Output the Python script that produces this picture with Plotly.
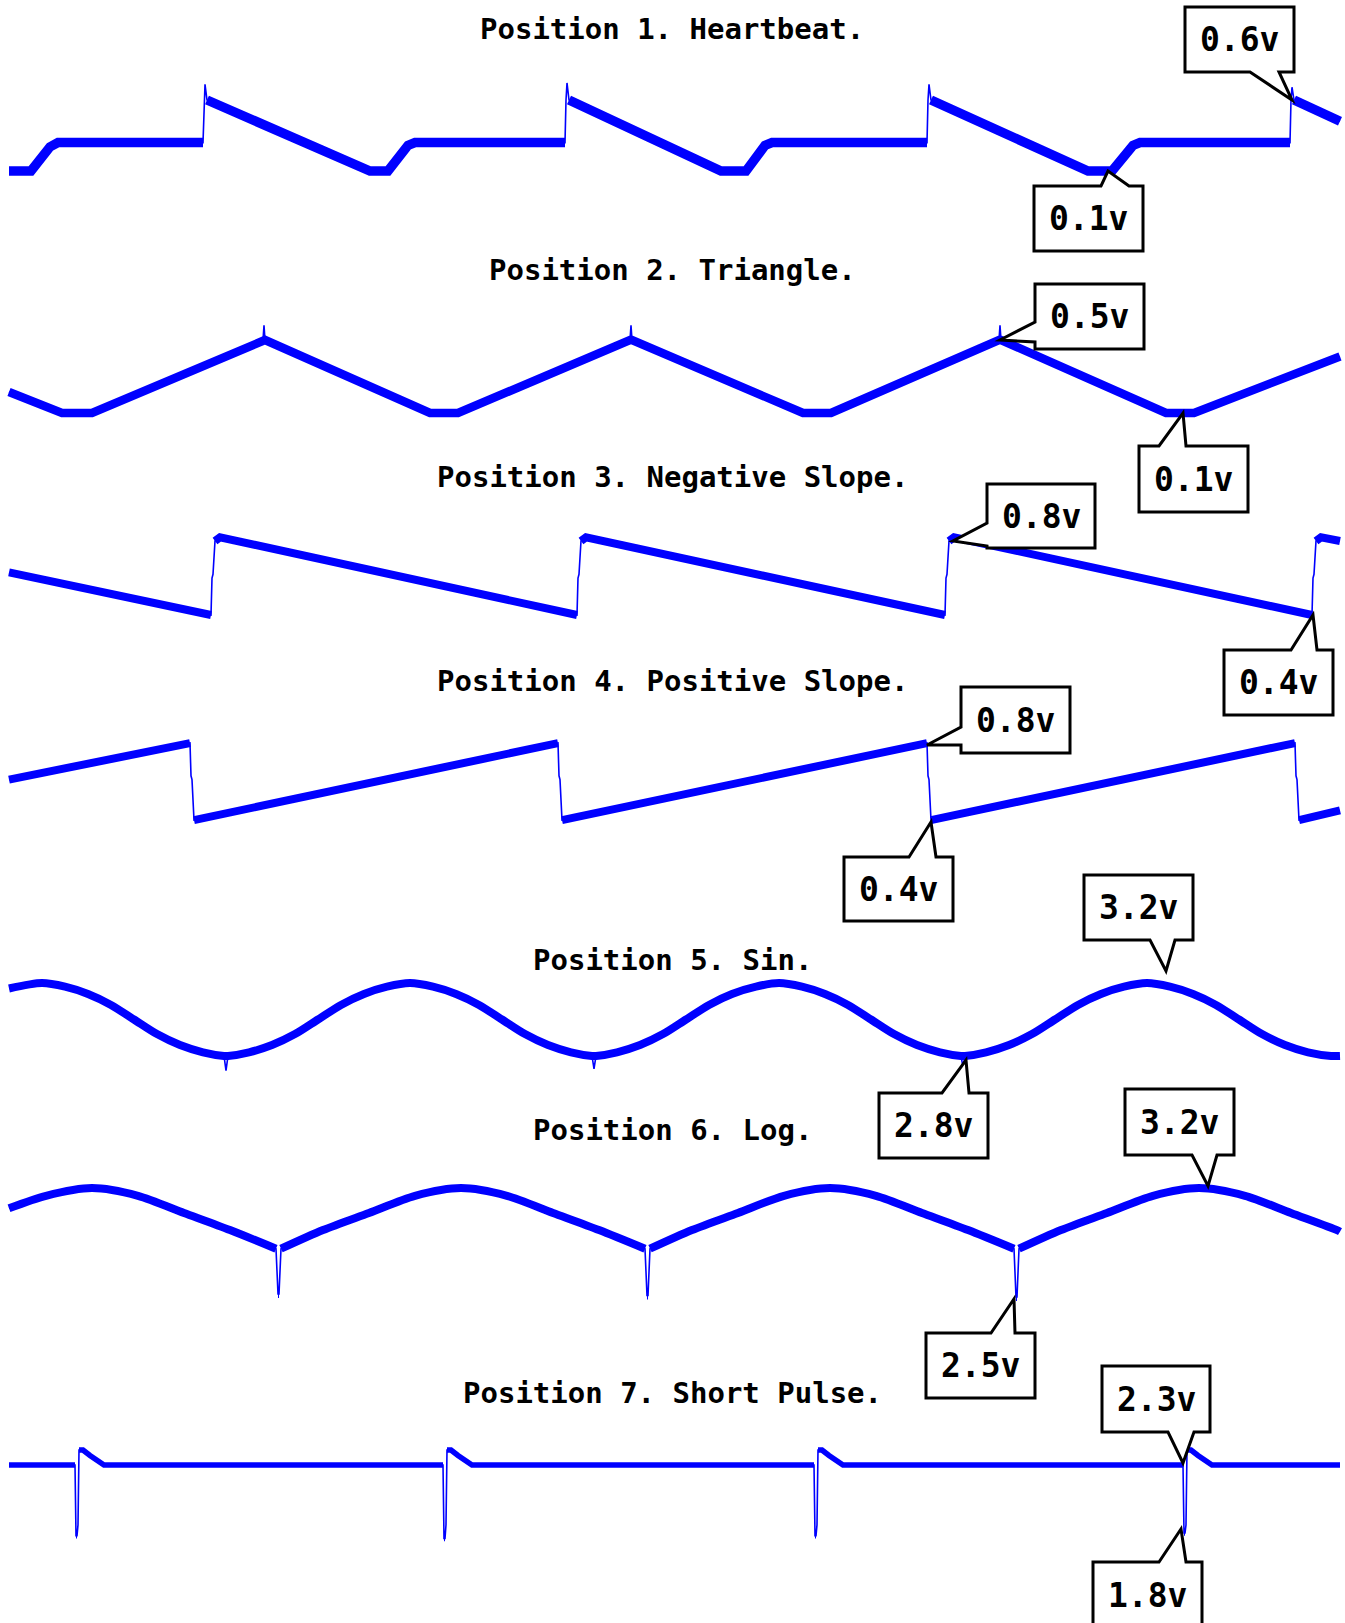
import plotly.graph_objects as go

W, H = 1345, 1623
BLUE = "#0000ff"
MONO = "DejaVu Sans Mono, Liberation Mono, monospace"

# scope captures: sample index and volts

# Position 1. Heartbeat.
heart_t = [0, 22, 41, 49, 194, 195, 196, 198, 361, 379, 399, 406,
           556, 557, 558, 560, 712, 737, 756, 763,
           918, 919, 920, 922, 1079, 1103, 1124, 1131,
           1281, 1282, 1283, 1285, 1331]
heart_v = [0.1, 0.1, 0.27, 0.3, 0.3, 0.6, 0.71, 0.6, 0.1, 0.1, 0.28, 0.3,
           0.3, 0.6, 0.72, 0.6, 0.1, 0.1, 0.28, 0.3,
           0.3, 0.6, 0.71, 0.6, 0.1, 0.1, 0.28, 0.3,
           0.3, 0.6, 0.69, 0.6, 0.45]

# Position 2. Triangle.
tri_t = [0, 53, 83, 254, 255, 256, 421, 449, 621, 622, 623,
         794, 822, 990, 991, 992, 1157, 1185, 1331]
tri_v = [0.215, 0.1, 0.1, 0.5, 0.58, 0.5, 0.1, 0.1, 0.5, 0.58, 0.5,
         0.1, 0.1, 0.5, 0.58, 0.5, 0.1, 0.1, 0.41]

# Position 3. Negative Slope.
neg_t = [0, 202, 203, 204, 206, 211, 568, 569, 570, 572, 577,
         936, 937, 938, 940, 945, 1303, 1304, 1305, 1307, 1312, 1331]
neg_v = [0.63, 0.4, 0.6, 0.62, 0.8, 0.82, 0.4, 0.6, 0.62, 0.8, 0.82,
         0.4, 0.6, 0.62, 0.8, 0.82, 0.4, 0.6, 0.62, 0.8, 0.82, 0.8]

# Position 4. Positive Slope.
pos_t = [0, 181, 182, 183, 185, 549, 550, 551, 553,
         918, 919, 920, 922, 1286, 1287, 1288, 1290, 1331]
pos_v = [0.62, 0.81, 0.64, 0.62, 0.41, 0.81, 0.64, 0.62, 0.41,
         0.81, 0.64, 0.62, 0.41, 0.81, 0.64, 0.62, 0.41, 0.46]

# Position 5. Sin.
sin_t = [0, 33, 56, 79, 102, 125, 148, 171, 194, 215, 217, 219,
         240, 263, 286, 309, 332, 355, 378, 401, 424, 447, 470, 493,
         516, 539, 562, 583, 585, 587, 608, 631, 654, 677, 700, 723,
         747, 770, 793, 816, 839, 862, 885, 908, 931, 952, 954, 956,
         977, 1000, 1023, 1046, 1069, 1092, 1115, 1138, 1161, 1184,
         1207, 1230, 1253, 1276, 1299, 1322, 1331]
sin_v = [3.17, 3.20, 3.18, 3.14, 3.08, 3.00, 2.92, 2.86, 2.82, 2.80, 2.72, 2.80,
         2.82, 2.86, 2.92, 3.00, 3.08, 3.14, 3.18, 3.20, 3.18, 3.14, 3.08, 3.00,
         2.92, 2.86, 2.82, 2.80, 2.73, 2.80, 2.82, 2.86, 2.92, 3.00, 3.08, 3.14,
         3.18, 3.20, 3.18, 3.14, 3.08, 3.00, 2.92, 2.86, 2.82, 2.80, 2.74, 2.80,
         2.82, 2.86, 2.92, 3.00, 3.08, 3.14, 3.18, 3.20,
         3.18, 3.14, 3.08, 3.00, 2.92, 2.86, 2.82, 2.80, 2.80]

# Position 6. Log.
log_t = [0, 37, 83, 129, 175, 221,
         267, 268, 269, 270, 271, 272,
         314, 360, 406, 452, 498, 544, 590,
         636, 637, 638, 639, 640, 641,
         683, 729, 775, 821, 867, 913, 959,
         1005, 1006, 1007, 1008, 1009, 1010,
         1052, 1098, 1144, 1190, 1236, 1282, 1328, 1331]
log_v = [3.07, 3.15, 3.20, 3.15, 3.04, 2.93,
         2.81, 2.69, 2.52, 2.52, 2.72, 2.81,
         2.93, 3.04, 3.15, 3.20, 3.15, 3.04, 2.93,
         2.81, 2.69, 2.51, 2.51, 2.72, 2.81,
         2.93, 3.04, 3.15, 3.20, 3.15, 3.04, 2.93,
         2.81, 2.69, 2.50, 2.50, 2.72, 2.81,
         2.93, 3.04, 3.15, 3.20, 3.15, 3.04, 2.93, 2.92]

# Position 7. Short Pulse.
pulse_t = [0, 66, 67, 68, 69, 70, 74, 81, 89, 95,
           434, 435, 436, 437, 438, 442, 449, 457, 463,
           805, 806, 807, 808, 809, 813, 820, 828, 834,
           1174, 1175, 1176, 1177, 1178, 1182, 1189, 1197, 1203, 1331]
pulse_v = [2.3, 2.3, 1.78, 1.78, 1.86, 2.41, 2.41, 2.37, 2.33, 2.3,
           2.3, 1.76, 1.76, 1.86, 2.41, 2.41, 2.37, 2.33, 2.3,
           2.3, 1.78, 1.78, 1.86, 2.41, 2.41, 2.37, 2.33, 2.3,
           2.3, 1.8, 1.8, 1.86, 2.41, 2.41, 2.37, 2.33, 2.3, 2.3]

titles = ["Position 1. Heartbeat.", "Position 2. Triangle.",
          "Position 3. Negative Slope.", "Position 4. Positive Slope.",
          "Position 5. Sin.", "Position 6. Log.", "Position 7. Short Pulse."]
series = [(heart_t, heart_v), (tri_t, tri_v), (neg_t, neg_v), (pos_t, pos_v),
          (sin_t, sin_v), (log_t, log_v), (pulse_t, pulse_v)]

# marked readings: label, row, sample, volts
call_labels = ["0.6v", "0.1v", "0.5v", "0.1v", "0.8v", "0.4v", "0.8v",
               "0.4v", "3.2v", "2.8v", "3.2v", "2.5v", "2.3v", "1.8v"]
call_rows = [0, 0, 1, 1, 2, 2, 3, 3, 4, 4, 5, 5, 6, 6]
call_t = [1283, 1099, 991, 1174, 944, 1304, 918, 922, 1157, 957, 1199, 1005, 1174, 1172]
call_v = [0.6, 0.1, 0.5, 0.1, 0.8, 0.4, 0.8, 0.4, 3.2, 2.8, 3.2, 2.5, 2.3, 1.8]

# ---- layout (screen pixels) ----
# per row: (volts low, px low, volts high, px high) for the vertical scale
calib = [(0.1, 171, 0.6, 100), (0.1, 413, 0.5, 340), (0.4, 615, 0.8, 541),
         (0.4, 822, 0.8, 745), (2.8, 1056, 3.2, 983), (2.5, 1297, 3.2, 1188),
         (1.8, 1533, 2.3, 1465)]
title_y = [29, 270, 477, 681, 960, 1130, 1393]
band_w = [9.5, 8.5, 8, 8, 8, 8, 5.5]
smooth = [False, False, False, False, True, True, False]
X0 = 9  # screen column of sample 0

# bubble geometry relative to the point: side, box x0,x1,y0,y1, pointer base b0,b1, tip dy
bubbles = [("bottom", -107, 2, -93, -28, -42, -13, 0),
           ("top", -74, 35, 15, 80, -7, 21, 0),
           ("left", 35, 144, -56, 9, -18, 2, 0),
           ("top", -44, 65, 33, 99, -24, 3, 0),
           ("left", 34, 142, -57, 7, -18, 5, 0),
           ("top", -89, 20, 35, 100, -22, 4, 0),
           ("left", 34, 143, -58, 8, -18, 0, 0),
           ("top", -87, 22, 35, 99, -22, 5, 0),
           ("bottom", -82, 27, -108, -43, -16, 9, -12),
           ("top", -87, 22, 37, 102, -24, 3, 4),
           ("bottom", -83, 26, -99, -33, -16, 9, -2),
           ("top", -88, 21, 36, 101, -23, 1, 2),
           ("bottom", -81, 27, -99, -33, -15, 11, -2),
           ("top", -88, 21, 29, 95, -22, 5, -4)]


def yrange(c):
    vlo, plo, vhi, phi = c
    ppv = (plo - phi) / (vhi - vlo)
    return [vlo - (H - plo) / ppv, vhi + phi / ppv], ppv


def band(ts, vs, ppv):
    # thick noisy band on slow parts, fast edges left to the thin trace
    def steep(k):
        return abs(vs[k + 1] - vs[k]) * ppv > 3 * abs(ts[k + 1] - ts[k])
    bx, by = [ts[0]], [vs[0]]
    i, n = 0, len(ts)
    while i < n - 1:
        j = i
        while j < n - 1 and steep(j):
            j += 1
        if j == i:
            bx.append(ts[i + 1]); by.append(vs[i + 1])
            i += 1
        else:
            if abs(vs[j] - vs[i]) * ppv < 6:
                bx.append(ts[j]); by.append(vs[j])
            else:
                bx += [None, ts[j]]; by += [None, vs[j]]
            i = j
    return bx, by


def bubble(side, x0, x1, y0, y1, b0, b1, tdy):
    tip = (0, tdy)
    if side == "bottom":
        pts = [(x0, y0), (x1, y0), (x1, y1), (b1, y1), tip, (b0, y1), (x0, y1)]
    elif side == "top":
        pts = [(x0, y0), (b0, y0), tip, (b1, y0), (x1, y0), (x1, y1), (x0, y1)]
    else:
        pts = [(x0, y0), (x1, y0), (x1, y1), (x0, y1), (x0, b1), tip, (x0, b0)]
    return "M" + "L".join(f"{x},{-y}" for x, y in pts) + "Z"


fig = go.Figure()
layout_axes = {}
for r, (ts, vs) in enumerate(series):
    yname = "y" if r == 0 else f"y{r + 1}"
    rng, ppv = yrange(calib[r])
    ax = dict(range=rng, visible=False, fixedrange=True)
    if r > 0:
        ax["overlaying"] = "y"
    layout_axes["yaxis" if r == 0 else f"yaxis{r + 1}"] = ax

    fig.add_trace(go.Scatter(x=ts, y=vs, yaxis=yname, mode="lines",
                             line=dict(color=BLUE, width=1.6), hoverinfo="skip"))
    bx, by = band(ts, vs, ppv)
    fig.add_trace(go.Scatter(x=bx, y=by, yaxis=yname, mode="lines",
                             line=dict(color=BLUE, width=band_w[r],
                                       shape="spline" if smooth[r] else "linear",
                                       smoothing=0.8),
                             hoverinfo="skip"))

annotations = []
for r, title in enumerate(titles):
    annotations.append(dict(text=f"<b>{title}</b>", xref="paper", yref="paper",
                            x=672 / W, y=1 - title_y[r] / H, showarrow=False,
                            xanchor="center", yanchor="middle",
                            font=dict(family=MONO, size=29, color="black")))

shapes = []
for k, lab in enumerate(call_labels):
    r = call_rows[k]
    yref = "y" if r == 0 else f"y{r + 1}"
    side, x0, x1, y0, y1, b0, b1, tdy = bubbles[k]
    shapes.append(dict(type="path", xref="x", yref=yref,
                       xsizemode="pixel", ysizemode="pixel",
                       xanchor=call_t[k], yanchor=call_v[k],
                       path=bubble(side, x0, x1, y0, y1, b0, b1, tdy),
                       line=dict(color="black", width=3), fillcolor="white",
                       layer="above"))
    annotations.append(dict(text=f"<b>{lab}</b>", xref="x", yref=yref,
                            x=call_t[k], y=call_v[k], showarrow=False,
                            xshift=(x0 + x1) / 2, yshift=-(y0 + y1) / 2,
                            xanchor="center", yanchor="middle",
                            font=dict(family=MONO, size=33, color="black")))

fig.update_layout(
    width=W, height=H,
    margin=dict(l=0, r=0, t=0, b=0),
    paper_bgcolor="white", plot_bgcolor="white",
    showlegend=False,
    xaxis=dict(range=[-X0, W - X0], visible=False, fixedrange=True),
    annotations=annotations,
    shapes=shapes,
    **layout_axes,
)

fig.write_html("out.html", config={"displayModeBar": False},
               post_script="document.body.style.margin='0';")
